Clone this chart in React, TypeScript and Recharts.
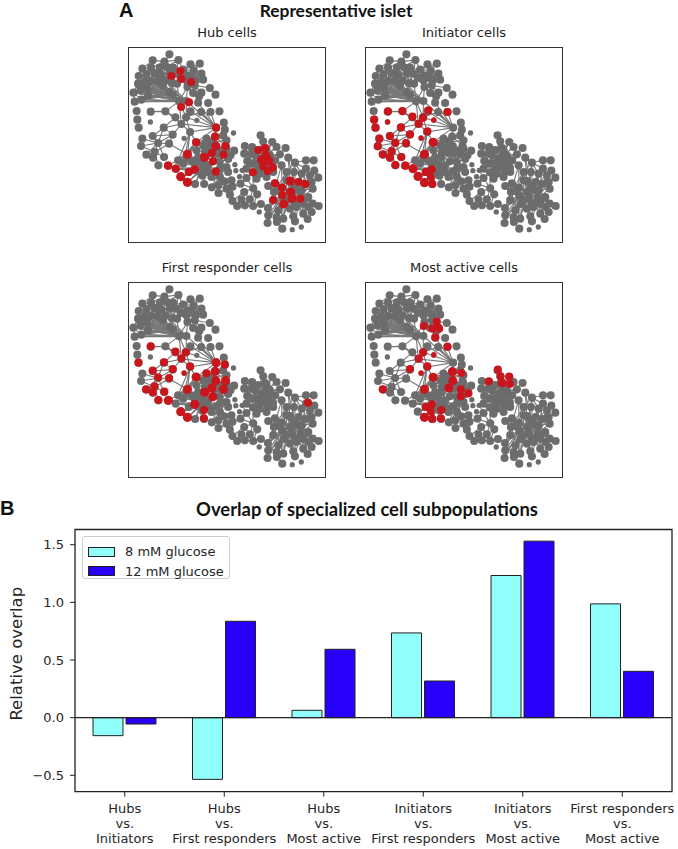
import React from 'react';
import { BarChart, Bar, XAxis, YAxis, ZAxis, ScatterChart, Scatter, ReferenceLine, ReferenceArea, Legend } from 'recharts';

const FONT = '"DejaVu Sans", sans-serif';
const TITLE_FONT = 'Lato, sans-serif';
const GRAY = '#6c6c6c';
const EDGE = '#777777';
const RED = '#c8161c';

// bar values
const pairs = [
    ['Hubs', 'vs.', 'Initiators'],
    ['Hubs', 'vs.', 'First responders'],
    ['Hubs', 'vs.', 'Most active'],
    ['Initiators', 'vs.', 'First responders'],
    ['Initiators', 'vs.', 'Most active'],
    ['First responders', 'vs.', 'Most active'],
];
const glucose8 = [-0.156, -0.535, 0.064, 0.735, 1.233, 0.987];
const glucose12 = [-0.055, 0.836, 0.593, 0.318, 1.531, 0.402];
const overlapTicks = [-0.5, 0, 0.5, 1, 1.5];

// network nodes, x y and a size class (1 small, 3 normal, 4 large)
type Node = number[];
const grayNodes: Node[] = [
    [149, 42, 3], [99, 60, 3], [134, 64, 3], [176, 59, 3], [212, 72, 3], [240, 70, 3], [68, 85, 3], [94, 82, 3], [120, 82, 3], [141, 80, 3],
    [160, 82, 3], [190, 88, 3], [222, 90, 3], [57, 107, 3], [80, 103, 3], [105, 100, 3], [125, 103, 3], [170, 100, 3], [205, 105, 3], [245, 100, 3],
    [55, 130, 3], [75, 125, 3], [95, 122, 3], [115, 122, 3], [138, 120, 3], [158, 128, 3], [200, 120, 3], [228, 118, 3], [250, 118, 3], [41, 157, 3],
    [62, 148, 3], [82, 143, 3], [203, 140, 3], [225, 135, 3], [270, 143, 3], [245, 157, 3], [287, 163, 3], [220, 158, 3], [238, 168, 3], [45, 184, 3],
    [65, 178, 3], [85, 165, 3], [160, 162, 3], [178, 183, 3], [200, 182, 3], [150, 155, 3], [235, 187, 3], [265, 188, 3],
    [150, 98, 3], [115, 100, 3], [183, 112, 3], [215, 112, 3], [130, 135, 3], [172, 130, 3],
    [51, 212, 3], [93, 214, 3], [137, 213, 3], [167, 231, 3], [199, 231, 3], [185, 251, 3], [53, 238, 3], [92, 245, 1], [231, 240, 1], [244, 215, 3],
    [272, 215, 3], [299, 213, 3], [212, 213, 3], [57, 262, 3], [132, 262, 3], [312, 247, 3], [315, 268, 3], [341, 278, 1], [159, 283, 3], [211, 275, 3],
    [99, 287, 3], [68, 295, 3], [193, 294, 1], [115, 308, 3], [148, 310, 3], [64, 317, 3], [105, 335, 3], [80, 343, 3], [100, 352, 3], [133, 350, 3],
    [116, 375, 3], [145, 376, 3], [168, 385, 3],
    [289, 262, 3], [286, 289, 3], [310, 285, 3], [260, 295, 3], [229, 306, 3], [320, 300, 3], [288, 317, 3], [317, 317, 3], [343, 331, 3], [250, 315, 3],
    [270, 320, 3], [230, 330, 3], [203, 342, 3], [254, 351, 3], [276, 338, 3], [311, 343, 3], [325, 356, 3], [175, 360, 3], [190, 370, 3], [215, 360, 3],
    [235, 350, 3], [279, 363, 3], [300, 365, 3], [345, 373, 1], [320, 380, 3], [300, 385, 3], [250, 380, 3], [225, 387, 3], [207, 395, 3], [183, 409, 3],
    [203, 426, 3], [226, 431, 3], [248, 406, 3], [253, 431, 3], [276, 441, 3], [296, 435, 3], [296, 458, 3], [320, 445, 3], [313, 423, 3], [335, 420, 3],
    [288, 394, 3], [325, 395, 3], [348, 391, 1], [367, 390, 1], [359, 409, 1], [338, 439, 3], [362, 430, 3], [380, 413, 3], [330, 463, 3],
    [200, 355, 3], [225, 370, 3], [245, 365, 3], [265, 375, 3], [240, 395, 3], [265, 395, 3], [290, 340, 3], [300, 330, 3], [275, 305, 3], [255, 335, 3],
    [320, 325, 3], [332, 345, 3], [275, 410, 3], [300, 410, 3],
    [400, 444, 3], [373, 455, 3], [412, 462, 3], [338, 482, 3], [390, 477, 3], [352, 497, 3], [375, 495, 3], [400, 497, 3], [423, 491, 3], [418, 515, 1], [365, 478, 3],
    [422, 285, 3], [430, 303, 3], [457, 305, 3], [397, 320, 3], [375, 317, 3], [373, 340, 3], [497, 323, 3], [415, 329, 3], [436, 323, 3], [470, 320, 3],
    [382, 362, 3], [405, 345, 3], [480, 342, 3], [466, 360, 3], [398, 370, 3], [438, 346, 3], [425, 358, 3], [447, 362, 3], [430, 378, 3], [459, 382, 3],
    [443, 392, 3], [399, 396, 3], [420, 400, 3], [380, 385, 3], [440, 410, 3], [410, 370, 3], [440, 330, 3], [415, 385, 3], [450, 345, 3], [395, 340, 3],
    [460, 395, 3], [410, 415, 3], [440, 380, 3],
    [505, 352, 3], [558, 360, 3], [581, 360, 3], [525, 367, 3], [485, 375, 3], [558, 385, 3], [583, 391, 3], [500, 395, 3], [545, 400, 3], [570, 405, 3],
    [595, 412, 3], [522, 395, 3], [465, 429, 3], [486, 442, 3], [511, 422, 3], [536, 425, 3], [556, 431, 3], [575, 425, 3], [445, 437, 3], [578, 445, 3],
    [462, 455, 3], [512, 455, 3], [487, 465, 3], [535, 450, 3], [565, 470, 3], [516, 474, 3], [541, 475, 3], [460, 479, 3], [491, 491, 3], [578, 490, 3],
    [596, 497, 3], [565, 500, 3], [444, 503, 3], [530, 500, 3], [510, 505, 3], [475, 510, 3], [575, 515, 3], [445, 525, 3], [470, 530, 3], [490, 535, 3],
    [520, 528, 3], [550, 520, 3], [443, 548, 3], [471, 545, 3], [487, 565, 3], [525, 543, 3], [517, 568, 1], [544, 560, 1], [563, 536, 3],
    [500, 420, 3], [525, 440, 3], [545, 450, 3], [500, 480, 3], [525, 490, 3], [480, 450, 3], [550, 490, 3],
];

// each fan starts at its hub node, the rest are the nodes it links to
const edgeFans: number[][][] = [
    [[178, 183], [41, 157], [62, 148], [82, 143], [55, 130], [75, 125], [95, 122], [45, 184], [65, 178], [85, 165], [115, 122], [138, 120], [150, 155], [160, 162], [200, 182], [130, 135], [172, 130]],
    [[160, 162], [41, 157], [62, 148], [55, 130], [75, 125], [95, 122], [57, 107], [80, 103], [65, 178], [85, 165], [45, 184], [130, 135]],
    [[200, 182], [41, 157], [62, 148], [55, 130], [82, 143], [85, 165], [45, 184], [65, 178], [95, 122], [115, 122], [138, 120]],
    [[150, 155], [55, 130], [75, 125], [41, 157], [62, 148], [65, 178], [45, 184]],
    [[150, 98], [115, 100], [125, 103], [141, 80], [160, 82], [170, 100], [138, 120], [158, 128], [183, 112], [172, 130]],
    [[183, 112], [170, 100], [190, 88], [205, 105], [215, 112], [200, 120], [172, 130], [203, 140]],
    [[215, 112], [205, 105], [222, 90], [228, 118], [245, 100], [225, 135], [203, 140]],
    [[105, 100], [68, 85], [94, 82], [120, 82], [80, 103], [125, 103], [95, 122], [115, 122], [75, 125], [138, 120], [57, 107], [99, 60]],
    [[134, 64], [99, 60], [149, 42], [176, 59], [120, 82], [141, 80], [160, 82], [105, 100], [94, 82]],
    [[190, 88], [176, 59], [212, 72], [160, 82], [170, 100], [205, 105], [222, 90], [200, 120], [228, 118], [240, 70]],
    [[205, 105], [222, 90], [245, 100], [228, 118], [250, 118], [203, 140], [225, 135], [200, 120], [170, 100]],
    [[225, 135], [270, 143], [245, 157], [250, 118], [220, 158], [238, 168], [203, 140]],
    [[158, 128], [138, 120], [170, 100], [125, 103], [200, 120], [160, 162], [150, 155]],
    [[68, 85], [57, 107], [94, 82], [80, 103], [99, 60]],
    [[41, 157], [55, 130], [62, 148], [45, 184], [65, 178]],
    [[80, 103], [57, 107], [55, 130], [75, 125], [95, 122], [62, 148], [82, 143], [120, 82], [94, 82]],
    [[141, 80], [125, 103], [170, 100], [160, 82], [120, 82], [138, 120], [158, 128], [115, 122], [176, 59]],
    [[95, 122], [55, 130], [62, 148], [82, 143], [138, 120], [75, 125], [115, 122], [125, 103]],
    [[170, 100], [160, 82], [125, 103], [176, 59], [200, 120], [138, 120], [203, 140]],
    [[203, 140], [200, 120], [220, 158], [200, 182], [178, 183], [238, 168], [228, 118]],
    [[222, 90], [240, 70], [212, 72], [250, 118], [245, 100], [228, 118]],
    [[85, 165], [41, 157], [62, 148], [82, 143], [65, 178], [45, 184], [115, 122], [138, 120]],
    [[185, 251], [167, 231], [199, 231], [137, 213], [212, 213], [159, 283], [211, 275], [132, 262], [178, 183]],
    [[289, 262], [244, 215], [212, 213], [199, 231], [185, 251], [211, 275], [200, 182], [235, 187], [229, 306], [272, 215]],
    [[211, 275], [199, 231], [229, 306], [175, 360], [190, 370], [203, 342]],
    [[159, 283], [132, 262], [115, 308], [148, 310], [99, 287]],
    [[115, 308], [99, 287], [68, 295], [64, 317], [105, 335], [148, 310], [80, 343], [100, 352], [133, 350]],
    [[105, 335], [80, 343], [100, 352], [133, 350], [116, 375], [148, 310], [64, 317]],
    [[132, 262], [99, 287], [115, 308], [167, 231]],
    [[137, 213], [93, 214], [167, 231], [178, 183]],
    [[199, 231], [178, 183], [200, 182], [244, 215]],
    [[250, 380], [175, 360], [190, 370], [215, 360], [235, 350], [225, 387], [207, 395], [168, 385], [183, 409], [203, 426], [226, 431], [248, 406], [253, 431], [279, 363], [276, 338], [300, 385], [254, 351]],
    [[203, 342], [229, 306], [145, 376], [168, 385], [175, 360], [215, 360], [260, 295], [190, 370], [148, 310]],
    [[276, 338], [260, 295], [286, 289], [288, 317], [250, 315], [270, 320], [230, 330], [311, 343], [254, 351], [279, 363], [300, 365], [235, 350], [215, 360], [289, 262]],
    [[300, 365], [311, 343], [325, 356], [320, 380], [300, 385], [288, 394], [325, 395], [288, 317], [317, 317], [279, 363], [313, 423], [296, 435]],
    [[286, 289], [310, 285], [289, 262], [260, 295], [288, 317], [317, 317], [320, 300], [229, 306], [250, 315]],
    [[300, 385], [313, 423], [276, 441], [296, 435], [288, 394]],
    [[229, 306], [230, 330], [250, 315], [175, 360], [203, 342], [190, 370]],
    [[265, 375], [200, 355], [225, 370], [245, 365], [240, 395], [265, 395], [290, 340], [255, 335], [275, 410], [300, 410], [248, 406], [207, 395], [311, 343], [325, 356]],
    [[290, 340], [300, 330], [275, 305], [255, 335], [320, 325], [332, 345], [286, 289], [265, 375], [300, 365], [250, 315]],
    [[240, 395], [183, 409], [168, 385], [203, 426], [226, 431], [200, 355], [225, 370], [145, 376]],
    [[300, 410], [288, 394], [275, 410], [313, 423], [335, 420], [320, 380], [296, 435], [276, 441]],
    [[275, 305], [260, 295], [310, 285], [250, 315], [320, 300], [230, 330], [270, 320]],
    [[425, 358], [422, 285], [430, 303], [457, 305], [397, 320], [375, 317], [373, 340], [415, 329], [436, 323], [470, 320], [382, 362], [405, 345], [480, 342], [466, 360], [398, 370], [438, 346], [447, 362], [430, 378], [459, 382], [443, 392], [399, 396], [420, 400], [380, 385], [440, 410]],
    [[438, 346], [430, 303], [457, 305], [405, 345], [480, 342], [398, 370], [459, 382], [420, 400], [470, 320], [397, 320]],
    [[398, 370], [375, 317], [373, 340], [382, 362], [380, 385], [399, 396], [405, 345], [420, 400]],
    [[410, 370], [395, 340], [440, 330], [415, 385], [450, 345], [430, 378], [397, 320], [430, 303], [380, 385], [443, 392], [373, 340]],
    [[440, 380], [440, 330], [450, 345], [466, 360], [420, 400], [415, 385], [480, 342], [460, 395], [410, 415], [375, 317]],
    [[512, 455], [505, 352], [525, 367], [485, 375], [500, 395], [545, 400], [522, 395], [465, 429], [486, 442], [511, 422], [536, 425], [556, 431], [575, 425], [445, 437], [578, 445], [462, 455], [487, 465], [535, 450], [565, 470], [516, 474], [541, 475], [460, 479], [491, 491], [578, 490], [530, 500], [510, 505], [475, 510], [444, 503], [470, 530], [490, 535], [520, 528], [550, 520]],
    [[487, 465], [445, 437], [500, 395], [485, 375], [465, 429], [445, 525], [444, 503], [470, 530], [490, 535], [510, 505], [475, 510], [471, 545], [443, 548], [462, 455]],
    [[541, 475], [558, 385], [570, 405], [545, 400], [575, 425], [578, 445], [565, 470], [578, 490], [596, 497], [565, 500], [530, 500], [575, 515], [550, 520], [520, 528], [525, 543], [563, 536]],
    [[525, 367], [505, 352], [545, 400], [558, 360], [558, 385], [522, 395], [500, 395]],
    [[500, 480], [480, 450], [525, 490], [550, 490], [500, 420], [445, 437], [445, 525], [470, 530], [520, 528], [490, 535], [462, 455]],
    [[525, 440], [500, 420], [545, 450], [480, 450], [505, 352], [525, 367], [558, 385], [570, 405], [565, 470], [550, 490], [525, 490], [500, 480]],
    [[462, 455], [500, 395], [485, 375], [445, 437], [444, 503], [445, 525], [480, 450], [490, 535]],
    [[545, 450], [570, 405], [583, 391], [595, 412], [575, 425], [578, 490], [565, 500], [550, 490], [530, 500]],
    [[400, 444], [373, 455], [412, 462], [380, 413], [390, 477], [362, 430], [399, 396]],
    [[373, 455], [338, 482], [365, 478], [352, 497], [390, 477]],
    [[400, 497], [375, 495], [423, 491], [412, 462], [390, 477], [352, 497]],
    [[338, 439], [313, 423], [362, 430], [330, 463], [320, 445], [296, 458], [338, 482]],
    [[380, 413], [399, 396], [362, 430], [359, 409], [367, 390]],
];

// red cells of each panel
const hubCells: Node[] = [
    [155, 107, 3], [182, 92, 3], [185, 116, 3], [214, 125, 3], [208, 186, 3], [184, 200, 3], [289, 262, 3], [286, 289, 3], [229, 306, 3], [288, 317, 4],
    [317, 317, 3], [311, 343, 3], [203, 342, 4], [254, 351, 4], [276, 338, 3], [279, 363, 3], [145, 376, 3], [168, 385, 3], [207, 395, 3], [225, 387, 3],
    [183, 409, 4], [203, 426, 4], [288, 394, 3], [415, 329, 3], [436, 323, 3], [438, 346, 4], [425, 358, 4], [447, 362, 4], [430, 378, 3], [459, 382, 3],
    [443, 392, 3], [399, 396, 3], [465, 429, 3], [486, 442, 3], [511, 422, 4], [536, 425, 3], [556, 431, 3], [512, 455, 4], [487, 465, 3], [516, 474, 4],
    [541, 475, 3], [460, 479, 3], [491, 491, 4],
];
const initiatorCells: Node[] = [
    [94, 213, 3], [137, 212, 3], [167, 229, 3], [199, 232, 3], [215, 210, 3], [272, 215, 3], [52, 238, 3], [93, 245, 1], [231, 239, 1], [186, 250, 3],
    [56, 262, 3], [133, 261, 3], [212, 273, 3], [160, 282, 3], [193, 293, 1], [100, 287, 3], [68, 295, 3], [229, 306, 4], [116, 307, 3], [148, 308, 3],
    [63, 318, 3], [105, 332, 3], [203, 342, 4], [78, 342, 3], [100, 352, 3], [134, 350, 3], [116, 374, 3], [146, 376, 3], [169, 385, 4], [207, 395, 3],
    [225, 387, 3], [184, 408, 4], [222, 410, 3], [203, 427, 4], [227, 431, 3],
];
const responderCells: Node[] = [
    [93, 213, 3], [167, 229, 3], [198, 231, 3], [185, 249, 3], [56, 262, 3], [133, 261, 3], [211, 273, 3], [289, 262, 4], [315, 268, 3], [159, 281, 3],
    [99, 286, 3], [193, 293, 1], [260, 294, 3], [286, 288, 4], [115, 306, 3], [148, 308, 3], [229, 305, 4], [288, 316, 4], [317, 316, 4], [104, 333, 3],
    [79, 342, 3], [99, 351, 3], [134, 349, 3], [203, 342, 4], [255, 351, 4], [276, 338, 4], [311, 342, 4], [279, 364, 4], [116, 374, 3], [146, 375, 4],
    [225, 387, 4], [253, 404, 3], [183, 409, 4], [203, 426, 4], [252, 429, 3], [564, 382, 3],
];
const activeCells: Node[] = [
    [240, 139, 3], [201, 152, 3], [227, 160, 3], [247, 160, 3], [236, 186, 3], [272, 214, 3], [199, 231, 3], [231, 238, 1], [186, 250, 3], [212, 273, 3],
    [160, 281, 3], [193, 293, 1], [287, 289, 4], [314, 293, 3], [229, 306, 4], [288, 316, 4], [276, 338, 4], [312, 342, 3], [335, 354, 3], [312, 363, 3],
    [203, 342, 4], [78, 342, 3], [207, 395, 3], [225, 387, 3], [222, 409, 3], [254, 404, 3], [203, 426, 4], [227, 431, 3], [252, 429, 3], [423, 283, 3],
    [431, 303, 3], [457, 304, 3], [396, 318, 3], [435, 322, 4], [459, 326, 3],
];

const panels = [
    { title: 'Hub cells', left: 128, top: 47, cells: hubCells },
    { title: 'Initiator cells', left: 365, top: 47, cells: initiatorCells },
    { title: 'First responder cells', left: 128, top: 282, cells: responderCells },
    { title: 'Most active cells', left: 365, top: 282, cells: activeCells },
];

const toPoints = (nodes: Node[]) => nodes.map(n => ({ x: n[0], y: n[1], z: n[2] }));

// hub -> a -> hub -> b ... so one polyline draws the whole fan
const fanPoints = (fan: number[][]) => fan.slice(1).flatMap(t => [
    { x: fan[0][0], y: fan[0][1], z: 1 },
    { x: t[0], y: t[1], z: 1 },
]);

const chartRows = pairs.map((p, i) => ({ name: p.join('|'), g8: glucose8[i], g12: glucose12[i] }));

function Network(props: { title: string; left: number; top: number; cells: Node[] }) {
    return <div style={{ position: 'absolute', left: props.left, top: props.top }}>
        <div style={{ position: 'absolute', left: -20, width: 238, top: -22, textAlign: 'center', fontFamily: FONT, fontSize: 13, color: '#222', whiteSpace: 'nowrap' }}>{props.title}</div>
        <div style={{ position: 'absolute', left: 0, top: 0, width: 198, height: 196, boxSizing: 'border-box', border: '1.5px solid #333' }} />
        <ScatterChart width={198} height={196} margin={{ top: 0, right: 0, bottom: 0, left: 0 }}>
            <XAxis type="number" dataKey="x" domain={[25, 618]} hide />
            <YAxis type="number" dataKey="y" domain={[20, 608]} reversed hide />
            <ZAxis type="number" dataKey="z" domain={[1, 4]} range={[22, 66]} />
            {edgeFans.map((fan, i) => <Scatter key={i} data={fanPoints(fan)} line={{ stroke: EDGE, strokeWidth: 1.1 }} shape={() => <g />} isAnimationActive={false} />)}
            <Scatter data={toPoints(grayNodes)} fill={GRAY} isAnimationActive={false} />
            <Scatter data={toPoints(props.cells)} fill={RED} isAnimationActive={false} />
        </ScatterChart>
    </div>;
}

function PairTick(props: any) {
    const lines = String(props.payload.value).split('|');
    return <text x={props.x} y={props.y + 14.5} textAnchor="middle" fontFamily={FONT} fontSize={13} fill="#262626">
        {lines.map((l: string, i: number) => <tspan key={i} x={props.x} dy={i === 0 ? 0 : 14.8}>{l}</tspan>)}
    </text>;
}

function GlucoseLegend(props: any) {
    return <div style={{ boxSizing: 'border-box', width: 148, height: 43, border: '1px solid #ccc', borderRadius: 3, background: '#fff', padding: '5px 0 0 5px', fontFamily: FONT, fontSize: 13, color: '#262626' }}>
        {props.payload.map((item: any) => <div key={item.value} style={{ display: 'flex', alignItems: 'center', height: 19.5 }}>
            <span style={{ boxSizing: 'border-box', width: 27, height: 10, background: item.color, border: '1px solid #222', marginRight: 10 }} />
            {item.value}
        </div>)}
    </div>;
}

export default function App() {
    return <div style={{ position: 'absolute', left: 0, top: 0, width: 678, height: 849, background: '#fff', overflow: 'hidden' }}>
        <div style={{ position: 'absolute', left: 119, top: -1, fontFamily: '"Liberation Sans", sans-serif', fontWeight: 700, fontSize: 20, color: '#111' }}>A</div>
        <div style={{ position: 'absolute', left: 0, top: 497, fontFamily: '"Liberation Sans", sans-serif', fontWeight: 700, fontSize: 20, color: '#111' }}>B</div>
        <div style={{ position: 'absolute', left: 136, width: 400, top: 0, textAlign: 'center', fontFamily: TITLE_FONT, fontWeight: 700, fontSize: 17.4, color: '#111' }}>Representative islet</div>
        <div style={{ position: 'absolute', left: 117, width: 500, top: 498, textAlign: 'center', fontFamily: TITLE_FONT, fontWeight: 700, fontSize: 18.4, color: '#111' }}>Overlap of specialized cell subpopulations</div>
        {panels.map(p => <Network key={p.title} {...p} />)}
        <div style={{ position: 'absolute', left: 0, top: 490 }}>
            <BarChart width={678} height={359} data={chartRows} barSize={30} barGap={3} margin={{ top: 39.5, right: 6, bottom: 0, left: 15 }}>
                <XAxis dataKey="name" interval={0} height={57.3} tick={<PairTick />} tickSize={5} axisLine={false} tickLine={{ stroke: '#222' }} />
                <YAxis type="number" domain={[-0.642, 1.632]} ticks={overlapTicks} width={60} allowDataOverflow axisLine={false} tickSize={5} tickMargin={6} tickLine={{ stroke: '#222' }}
                    tick={{ fontFamily: FONT, fontSize: 13, fill: '#262626' }} tickFormatter={(v: number) => (v < 0 ? '\u2212' + Math.abs(v).toFixed(1) : v.toFixed(1))}
                    label={{ value: 'Relative overlap', angle: -90, position: 'insideLeft', dx: -4, dy: 60, style: { fontFamily: FONT, fontSize: 16.5, fill: '#262626' } }} />
                <Legend layout="horizontal" verticalAlign="middle" itemSorter={null} content={<GlucoseLegend />} wrapperStyle={{ left: 82, top: 46, width: 148 }} />
                <Bar dataKey="g8" name="8 mM glucose" fill="#90fffc" stroke="#222" strokeWidth={1} isAnimationActive={false} />
                <Bar dataKey="g12" name="12 mM glucose" fill="#2600f8" stroke="#222" strokeWidth={1} isAnimationActive={false} />
                <ReferenceLine y={0} stroke="#222" strokeWidth={1.2} />
                <ReferenceArea y1={-0.642} y2={1.632} fill="none" stroke="#222" strokeWidth={1.3} />
            </BarChart>
        </div>
    </div>;
}
